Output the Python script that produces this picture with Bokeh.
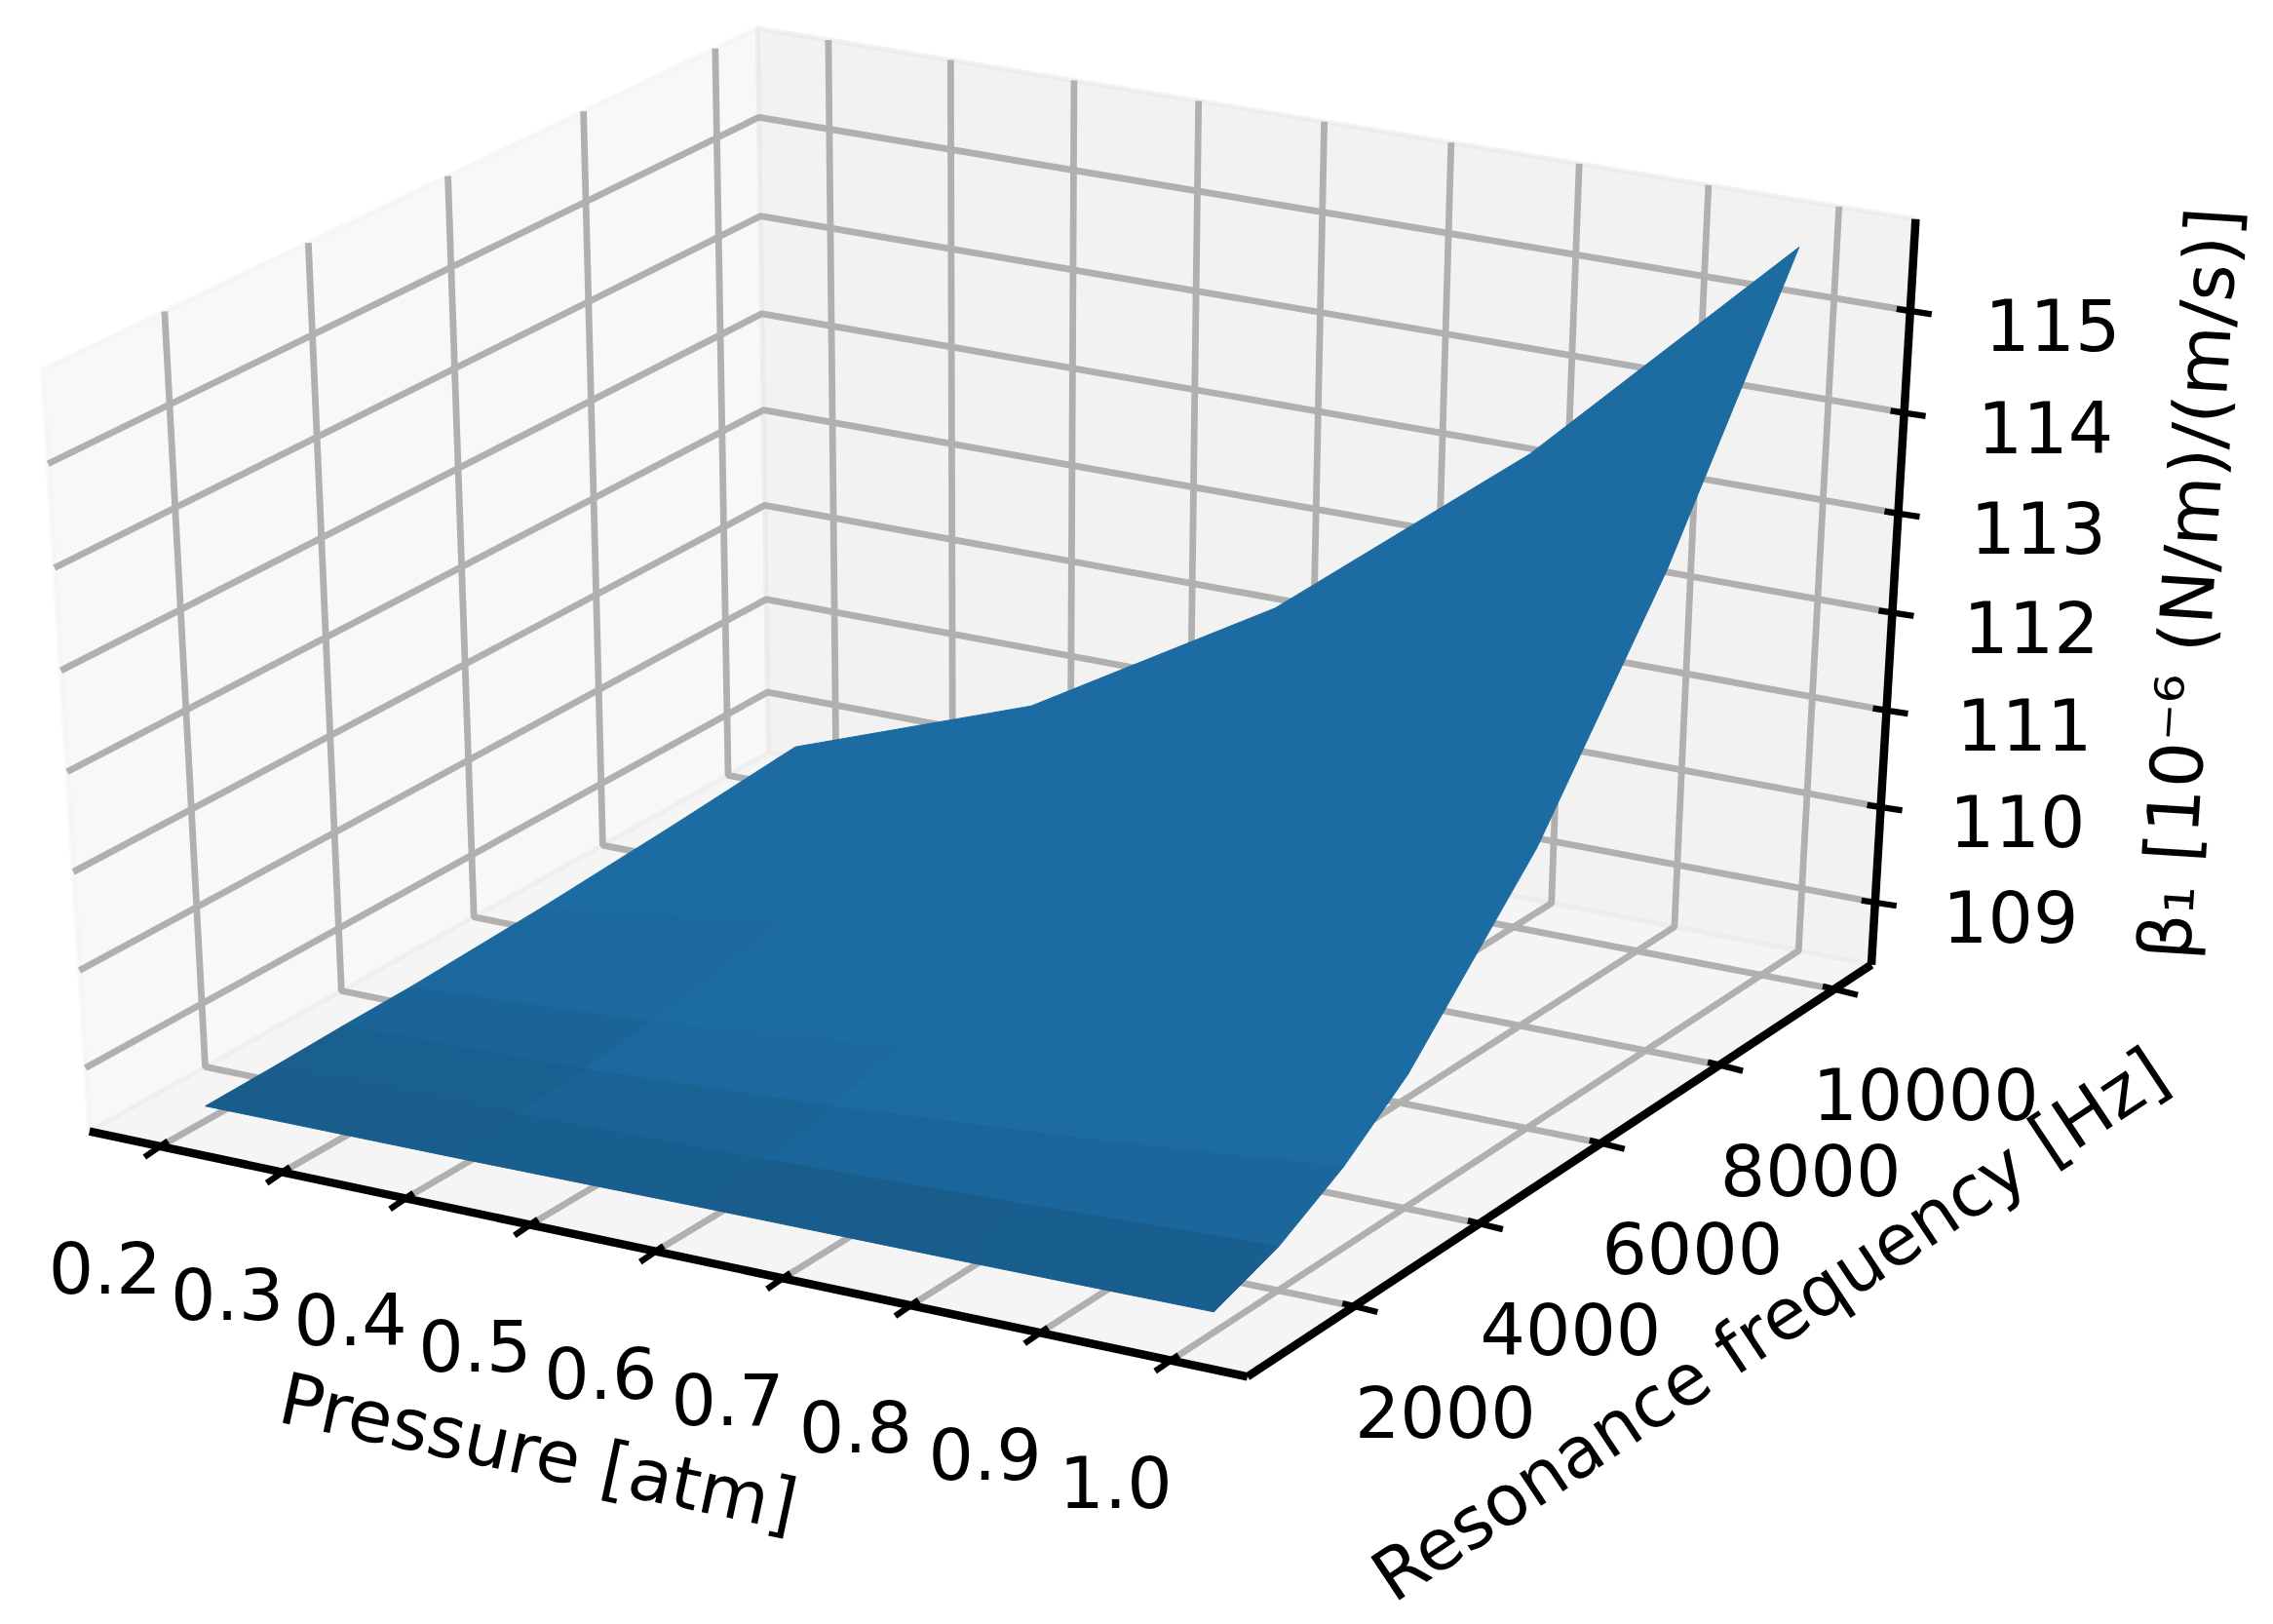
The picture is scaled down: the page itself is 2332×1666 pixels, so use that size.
import math
import numpy as np
from bokeh.models import Range1d, ColumnDataSource
from bokeh.plotting import figure
from bokeh.embed import file_html
from bokeh.resources import INLINE
from bokeh.core.properties import value

# ---- data ----
pressure = [0.2, 0.4, 0.6, 0.8, 1.0]
frequency = [1000, 2000, 3000, 4000, 6000, 8000, 10000]
beta_f1000 = [108.49, 108.50, 108.52, 108.53, 108.55]
beta_f2000 = [108.50, 108.53, 108.59, 108.68, 108.79]
beta_f3000 = [108.52, 108.59, 108.73, 108.93, 109.18]
beta_f4000 = [108.53, 108.68, 108.93, 109.28, 109.71]
beta_f6000 = [108.59, 108.93, 109.48, 110.28, 111.21]
beta_f8000 = [108.68, 109.28, 110.28, 111.56, 113.24]
beta_f10000 = [108.79, 109.71, 111.21, 113.24, 115.71]
beta = [beta_f1000, beta_f2000, beta_f3000, beta_f4000, beta_f6000, beta_f8000, beta_f10000]

x_ticks = [0.2, 0.3, 0.4, 0.5, 0.6, 0.7, 0.8, 0.9, 1.0]
x_labels = ["0.2", "0.3", "0.4", "0.5", "0.6", "0.7", "0.8", "0.9", "1.0"]
y_ticks = [2000, 4000, 6000, 8000, 10000]
y_labels = ["2000", "4000", "6000", "8000", "10000"]
z_ticks = [109, 110, 111, 112, 113, 114, 115]
z_labels = ["109", "110", "111", "112", "113", "114", "115"]
x_title = "Pressure [atm]"
y_title = "Resonance frequency [Hz]"
z_title = "β₁ [10⁻⁶ (N/m)/(m/s)]"

# ---- 3-D view (elevation 30, azimuth -60, distance 10) ----
XLIM = (0.1417, 1.0583)
YLIM = (344.0, 10656.0)
ZLIM = (108.34, 115.89)
AX, BX, AY, BY = 13715.0, 1019.5, 8920.0, 696.5
el, az = math.radians(30), math.radians(-60)
N = np.array([math.cos(az) * math.cos(el), math.sin(az) * math.cos(el), math.sin(el)])
U = np.cross([0, 0, 1], N)
U = U / np.linalg.norm(U)
V = np.cross(N, U)
DIST = 10.0


def world(x, y, z):
    return np.array([
        (x - XLIM[0]) / (XLIM[1] - XLIM[0]) - 0.5,
        (y - YLIM[0]) / (YLIM[1] - YLIM[0]) - 0.5,
        (z - ZLIM[0]) / (ZLIM[1] - ZLIM[0]) - 0.5,
    ])


def proj(x, y, z):
    p = world(x, y, z)
    w = DIST - p.dot(N)
    return AX * p.dot(U) / w + BX, BY - AY * p.dot(V) / w, w


def pts(seq):
    o = [proj(*q) for q in seq]
    return [a[0] for a in o], [a[1] for a in o]


x0, x1 = XLIM
y0, y1 = YLIM
z0, z1 = ZLIM

p = figure(width=2316, height=1650, output_backend="svg", toolbar_location=None,
           x_range=Range1d(0, 2316), y_range=Range1d(1650, 0), min_border=0,
           background_fill_color="white", border_fill_color="white", outline_line_color=None)
p.axis.visible = False
p.grid.visible = False

# panes
panes = [
    ([(x0, y0, z0), (x0, y0, z1), (x0, y1, z1), (x0, y1, z0)], 0.95),
    ([(x0, y1, z0), (x0, y1, z1), (x1, y1, z1), (x1, y1, z0)], 0.90),
    ([(x0, y0, z0), (x1, y0, z0), (x1, y1, z0), (x0, y1, z0)], 0.925),
]
for corners, g in panes:
    xs, ys = pts(corners)
    c = (int(round(g * 255)),) * 3
    p.patch(xs, ys, fill_color=c, fill_alpha=0.5, line_color=c, line_alpha=0.5, line_width=5)

# grid lines
gx, gy = [], []
for t in x_ticks:
    a, b = pts([(t, y0, z0), (t, y1, z0), (t, y1, z1)])
    gx.append(a); gy.append(b)
for t in y_ticks:
    a, b = pts([(x1, t, z0), (x0, t, z0), (x0, t, z1)])
    gx.append(a); gy.append(b)
for t in z_ticks:
    a, b = pts([(x0, y0, t), (x0, y1, t), (x1, y1, t)])
    gx.append(a); gy.append(b)
p.multi_line(gx, gy, line_color="#b0b0b0", line_width=6.8)

# axis lines
for s, e in [((x0, y0, z0), (x1, y0, z0)), ((x1, y0, z0), (x1, y1, z0)), ((x1, y1, z0), (x1, y1, z1))]:
    a, b = pts([s, e])
    p.line(a, b, line_color="black", line_width=8.5)

# tick marks and labels
tx, ty = [], []
lx, ly, lt = [], [], []
for t, s in zip(x_ticks, x_labels):
    a, b, _ = proj(t, y0, z0)
    tx.append([a + 8, a - 16]); ty.append([b - 5.5, b + 11])
    lx.append(a - 56.5); ly.append(b + 124); lt.append(s)
for t, s in zip(y_ticks, y_labels):
    a, b, _ = proj(x1, t, z0)
    tx.append([a - 12, a + 24]); ty.append([b - 3, b + 6])
    lx.append(a + 93.5); ly.append(b + 107.5); lt.append(s)
for i, (t, s) in enumerate(zip(z_ticks, z_labels)):
    a, b, _ = proj(x1, y1, t)
    tx.append([a - 14, a + 22]); ty.append([b - 2, b + 3.5])
    lx.append(a + 139 + i * 7 / 6); ly.append(b + 14.5); lt.append(s)
p.multi_line(tx, ty, line_color="black", line_width=6.3)
p.text(lx, ly, text=lt, text_font=value("DejaVu Sans"), text_font_size="73px",
       text_align="center", text_baseline="middle", text_color="black")

# surface: one shaded quad per cell, painted back to front
LIGHT = np.array([-1.0, -1.0, 0.5]) / 1.5
BASE = np.array([31, 119, 180], dtype=float)
quads = []
for r in range(len(frequency) - 1):
    for c in range(len(pressure) - 1):
        cell = [(pressure[c], frequency[r], beta[r][c]),
                (pressure[c + 1], frequency[r], beta[r][c + 1]),
                (pressure[c + 1], frequency[r + 1], beta[r + 1][c + 1]),
                (pressure[c], frequency[r + 1], beta[r + 1][c])]
        q = np.array(cell)
        nrm = np.cross(q[0] - q[1], q[1] - q[2])
        nrm = nrm / np.linalg.norm(nrm)
        shade = 0.3 + 0.7 * (nrm.dot(LIGHT) + 1) / 2
        col = "#%02x%02x%02x" % tuple(int(round(v)) for v in BASE * shade)
        o = [proj(*k) for k in cell]
        quads.append((np.mean([k[2] for k in o]), [k[0] for k in o], [k[1] for k in o], col))
quads.sort(key=lambda k: -k[0])
src = ColumnDataSource(dict(xs=[k[1] for k in quads], ys=[k[2] for k in quads], col=[k[3] for k in quads]))
p.patches("xs", "ys", source=src, fill_color="col", line_color="col", line_width=1)

# axis titles
p.text([552], [1489], text=[x_title], angle=[-math.radians(12)], text_font=value("DejaVu Sans"),
       text_font_size="73.5px", text_align="center", text_baseline="middle", text_color="black")
p.text([1815], [1358], text=[y_title], angle=[math.radians(33.6)], text_font=value("DejaVu Sans"),
       text_font_size="73px", text_align="center", text_baseline="middle", text_color="black")
p.text([2245], [598], text=[z_title], angle=[math.radians(86.3)], text_font=value("DejaVu Sans"),
       text_font_size="74px", text_align="center", text_baseline="middle", text_color="black")

open("out.html", "w").write(file_html(p, INLINE))
